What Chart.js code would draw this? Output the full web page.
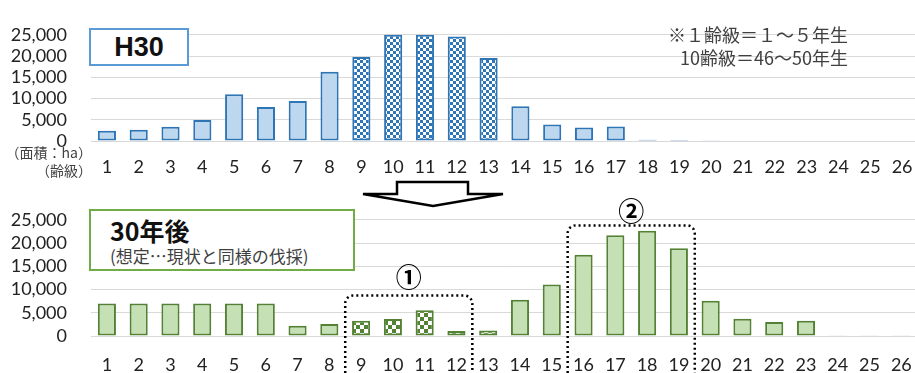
<!DOCTYPE html>
<html lang="ja">
<head>
<meta charset="utf-8">
<title>齢級別面積 H30 / 30年後</title>
<script src="https://cdn.jsdelivr.net/npm/chart.js@4.4.1/dist/chart.umd.min.js"></script>
<style>
    html, body {
        margin: 0;
        padding: 0;
        background: #fff;
    }
    body {
        position: relative;
        width: 915px;
        height: 373px;
        overflow: hidden;
        font-family: "Noto Sans CJK JP", sans-serif;
    }
    canvas {
        position: absolute;
        left: 0;
    }
    #topChart { top: 0; }
    #bottomChart { top: 185px; }
    .overlay {
        position: absolute;
        z-index: 2;
        white-space: nowrap;
    }
    .unit {
        right: 823px;
        font-size: 14px;
        color: #404040;
        line-height: 18px;
        text-align: right;
    }
    .note {
        right: 67px;
        top: 23px;
        font-size: 18px;
        line-height: 23px;
        color: #404040;
        text-align: right;
    }
    .title-box {
        box-sizing: border-box;
        background: #fff;
    }
    #h30Box {
        left: 89px;
        top: 28px;
        width: 100px;
        height: 38px;
        border: 2px solid #5b9bd5;
        text-align: center;
        font: bold 27px "Liberation Sans", Arial, sans-serif;
        line-height: 34px;
        color: #111;
    }
    #afterBox {
        left: 89px;
        top: 209px;
        width: 266px;
        height: 62px;
        border: 2px solid #70ad47;
        padding-left: 19px;
    }
    #afterBox .main {
        font-size: 25px;
        font-weight: bold;
        line-height: 30px;
        margin-top: 4px;
        color: #111;
    }
    #afterBox .sub {
        font-size: 17px;
        line-height: 22px;
        color: #404040;
    }
    #arrow {
        position: absolute;
        left: 0;
        top: 0;
        z-index: 3;
        pointer-events: none;
    }
</style>
</head>
<body>
<canvas id="topChart" width="930" height="185" style="width:930px;height:185px"></canvas>
<canvas id="bottomChart" width="930" height="188" style="width:930px;height:188px"></canvas>

<div class="overlay title-box" id="h30Box">H30</div>
<div class="overlay title-box" id="afterBox">
    <div class="main">30年後</div>
    <div class="sub">(想定…現状と同様の伐採)</div>
</div>
<div class="overlay note">※１齢級＝１～５年生<br>10齢級＝46～50年生</div>
<div class="overlay unit" style="top:143px">（面積：ha）</div>
<div class="overlay unit" style="top:161px">（齢級）</div>

<svg id="arrow" width="915" height="373">
    <polygon points="397,182 468,182 468,194 503,194 433,206 363,194 397,194"
             fill="#fff" stroke="#000" stroke-width="2.5" stroke-linejoin="miter"/>
</svg>

<script>
// age classes (齢級) 1..26
const ageClasses = ['1', '2', '3', '4', '5', '6', '7', '8', '9', '10', '11', '12', '13',
    '14', '15', '16', '17', '18', '19', '20', '21', '22', '23', '24', '25', '26'];

// area (ha) in H30
const h30Area = [2400, 2650, 3350, 4950, 11000, 8000, 9400, 16300, 19800, 25000, 25000, 24600, 19550,
    8200, 3900, 3150, 3400, 300, 250, 200, 0, 0, 0, 0, 0, 0];

// area (ha) 30 years later
const after30Area = [7000, 7000, 7000, 7000, 7000, 7000, 2200, 2600, 3300, 3650, 5550, 1100, 1200,
    7800, 11100, 17500, 21700, 22650, 18900, 7600, 3700, 3000, 3300, 150, 150, 150];

// y axis ticks
const yTicks = [0, 5000, 10000, 15000, 20000, 25000];

// classes drawn with checkered fill
const checkeredClasses = ['9', '10', '11', '12', '13'];

// dotted groups in the lower chart
const groupFrom = ['9', '16'];
const groupTo = ['12', '19'];
const groupTop = [8700, 23800];
const groupLabel = ['①', '②'];
const groupLabelGap = [18, 14];

function checker(color, cell) {
    const c = document.createElement('canvas');
    c.width = cell * 2;
    c.height = cell * 2;
    const g = c.getContext('2d');
    g.fillStyle = '#fff';
    g.fillRect(0, 0, cell * 2, cell * 2);
    g.fillStyle = color;
    g.fillRect(0, 0, cell, cell);
    g.fillRect(cell, cell, cell, cell);
    return g.createPattern(c, 'repeat');
}

function fills(solid, pattern) {
    return ageClasses.map(a => checkeredClasses.includes(a) ? pattern : solid);
}

function options(xHeight, xPad, topPad) {
    return {
        responsive: false,
        animation: false,
        layout: { padding: { top: topPad, right: 12, left: 0, bottom: 0 } },
        plugins: {
            legend: { display: false },
            tooltip: { enabled: false }
        },
        scales: {
            x: {
                grid: { display: false, drawTicks: false },
                border: { display: false },
                ticks: {
                    padding: xPad,
                    color: '#222',
                    font: { family: 'Lato', size: 18 },
                    maxRotation: 0,
                    autoSkip: false
                },
                afterFit: axis => { axis.height = xHeight; }
            },
            y: {
                min: 0,
                max: 25000,
                grid: { color: '#d9d9d9', lineWidth: 1, drawTicks: false },
                border: { display: false },
                afterBuildTicks: axis => { axis.ticks = yTicks.map(v => ({ value: v })); },
                ticks: {
                    padding: 24,
                    autoSkip: false,
                    color: '#222',
                    font: { family: 'Lato', size: 18 },
                    callback: v => v.toLocaleString('en-US')
                },
                afterFit: axis => { axis.width = 91; }
            }
        }
    };
}

function barSet(data, fill, pattern, border) {
    return {
        data: data,
        backgroundColor: fills(fill, pattern),
        borderColor: border,
        borderWidth: 2,
        borderSkipped: false,
        categoryPercentage: 1,
        barPercentage: 0.57,
        clip: false
    };
}

// Top chart (H30)
new Chart(document.getElementById('topChart'), {
    type: 'bar',
    data: {
        labels: ageClasses,
        datasets: [barSet(h30Area, '#bdd7ee', checker('#2e75b6', 3), '#2e75b6')]
    },
    options: options(44, 15, 17)
});

// Dotted group boxes for the lower chart
const groupBoxes = {
    id: 'groupBoxes',
    afterDraw(chart) {
        const ctx = chart.ctx;
        const x = chart.scales.x;
        const y = chart.scales.y;
        const half = (x.getPixelForValue(1) - x.getPixelForValue(0)) / 2;
        ctx.save();
        groupFrom.forEach((from, i) => {
            const left = x.getPixelForValue(ageClasses.indexOf(from)) - half;
            const right = x.getPixelForValue(ageClasses.indexOf(groupTo[i])) + half;
            const top = y.getPixelForValue(groupTop[i]);
            const bottom = chart.height + 20;
            const r = 8;
            ctx.beginPath();
            ctx.moveTo(left, bottom);
            ctx.lineTo(left, top + r);
            ctx.arcTo(left, top, left + r, top, r);
            ctx.lineTo(right - r, top);
            ctx.arcTo(right, top, right, top + r, r);
            ctx.lineTo(right, bottom);
            ctx.setLineDash([2, 3]);
            ctx.lineWidth = 2.5;
            ctx.strokeStyle = '#000';
            ctx.stroke();

            ctx.setLineDash([]);
            ctx.fillStyle = '#000';
            ctx.font = 'bold 26px "Noto Sans CJK JP"';
            ctx.textAlign = 'center';
            ctx.textBaseline = 'middle';
            ctx.fillText(groupLabel[i], (left + right) / 2, top - groupLabelGap[i]);
        });
        ctx.restore();
    }
};

// Bottom chart (30年後)
new Chart(document.getElementById('bottomChart'), {
    type: 'bar',
    data: {
        labels: ageClasses,
        datasets: [barSet(after30Area, '#c5e0b4', checker('#548235', 4), '#548235')]
    },
    options: options(37, 18, 29),
    plugins: [groupBoxes]
});
</script>
</body>
</html>
